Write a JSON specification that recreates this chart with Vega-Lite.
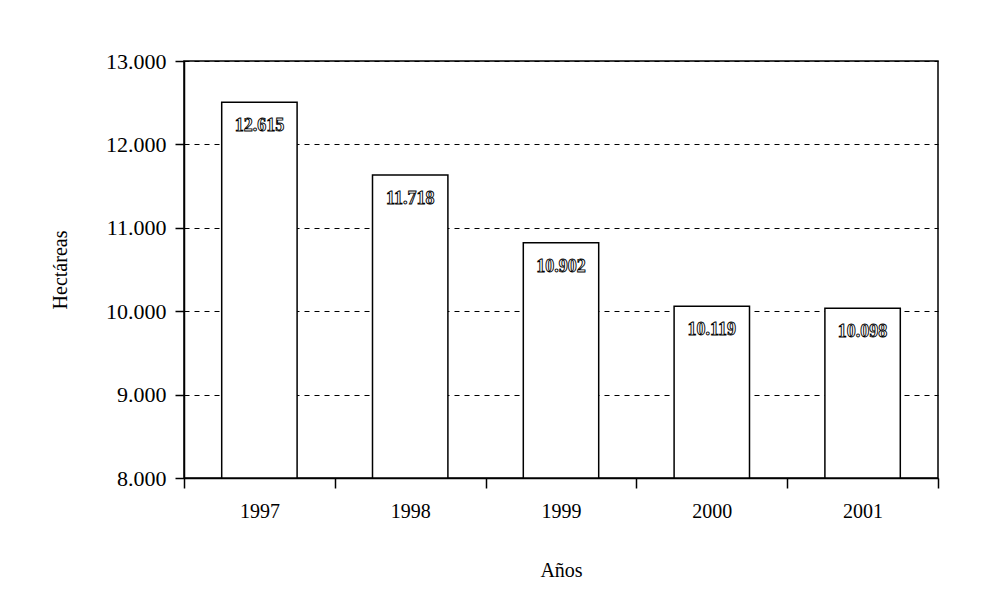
{
  "$schema": "https://vega.github.io/schema/vega-lite/v6.json",
  "width": 754,
  "height": 417,
  "autosize": {"type": "none"},
  "padding": {"left": 184, "top": 61, "right": 43, "bottom": 134},
  "background": "white",
  "config": {
    "view": {"stroke": "black", "strokeWidth": 1.5},
    "font": "Liberation Serif"
  },
  "data": {
    "values": [
      {"anio": "1997", "altura": 12504, "base": 8000, "etiqueta": "12.615"},
      {"anio": "1998", "altura": 11632, "base": 8000, "etiqueta": "11.718"},
      {"anio": "1999", "altura": 10821, "base": 8000, "etiqueta": "10.902"},
      {"anio": "2000", "altura": 10060, "base": 8000, "etiqueta": "10.119"},
      {"anio": "2001", "altura": 10036, "base": 8000, "etiqueta": "10.098"}
    ]
  },
  "encoding": {
    "x": {
      "field": "anio",
      "type": "ordinal",
      "scale": {"paddingInner": 0, "paddingOuter": 0},
      "axis": {
        "title": "Años",
        "labelAngle": 0,
        "tickBand": "extent",
        "tickSize": 10,
        "tickColor": "black",
        "tickWidth": 1.5,
        "domainColor": "black",
        "domainWidth": 1.5,
        "labelFontSize": 20,
        "labelColor": "black",
        "labelPadding": 13,
        "titleFontSize": 20,
        "titleFontWeight": "normal",
        "titleColor": "black",
        "titlePadding": 39,
        "grid": false
      }
    },
    "y": {
      "field": "altura",
      "type": "quantitative",
      "scale": {"domain": [8000, 13000], "nice": false, "zero": false},
      "axis": {
        "title": "Hectáreas",
        "values": [8000, 9000, 10000, 11000, 12000, 13000],
        "labelExpr": "replace(format(datum.value, ','), ',', '.')",
        "grid": true,
        "gridColor": "black",
        "gridDash": [5, 5],
        "gridWidth": 1,
        "tickSize": 9,
        "tickColor": "black",
        "tickWidth": 1.5,
        "domainColor": "black",
        "domainWidth": 1.5,
        "labelFontSize": 22,
        "labelColor": "black",
        "labelPadding": 9,
        "titleFontSize": 20,
        "titleFontWeight": "normal",
        "titleColor": "black",
        "titlePadding": 35
      }
    }
  },
  "layer": [
    {
      "mark": {"type": "bar", "fill": "white", "stroke": "black", "strokeWidth": 1.5, "width": {"band": 0.5}},
      "encoding": {"y2": {"field": "base"}}
    },
    {
      "mark": {
        "type": "text",
        "dy": 24,
        "font": "Liberation Serif",
        "fontWeight": "bold",
        "fontSize": 18,
        "fill": "white",
        "stroke": "black",
        "strokeWidth": 0.9
      },
      "encoding": {"text": {"field": "etiqueta"}}
    }
  ]
}
